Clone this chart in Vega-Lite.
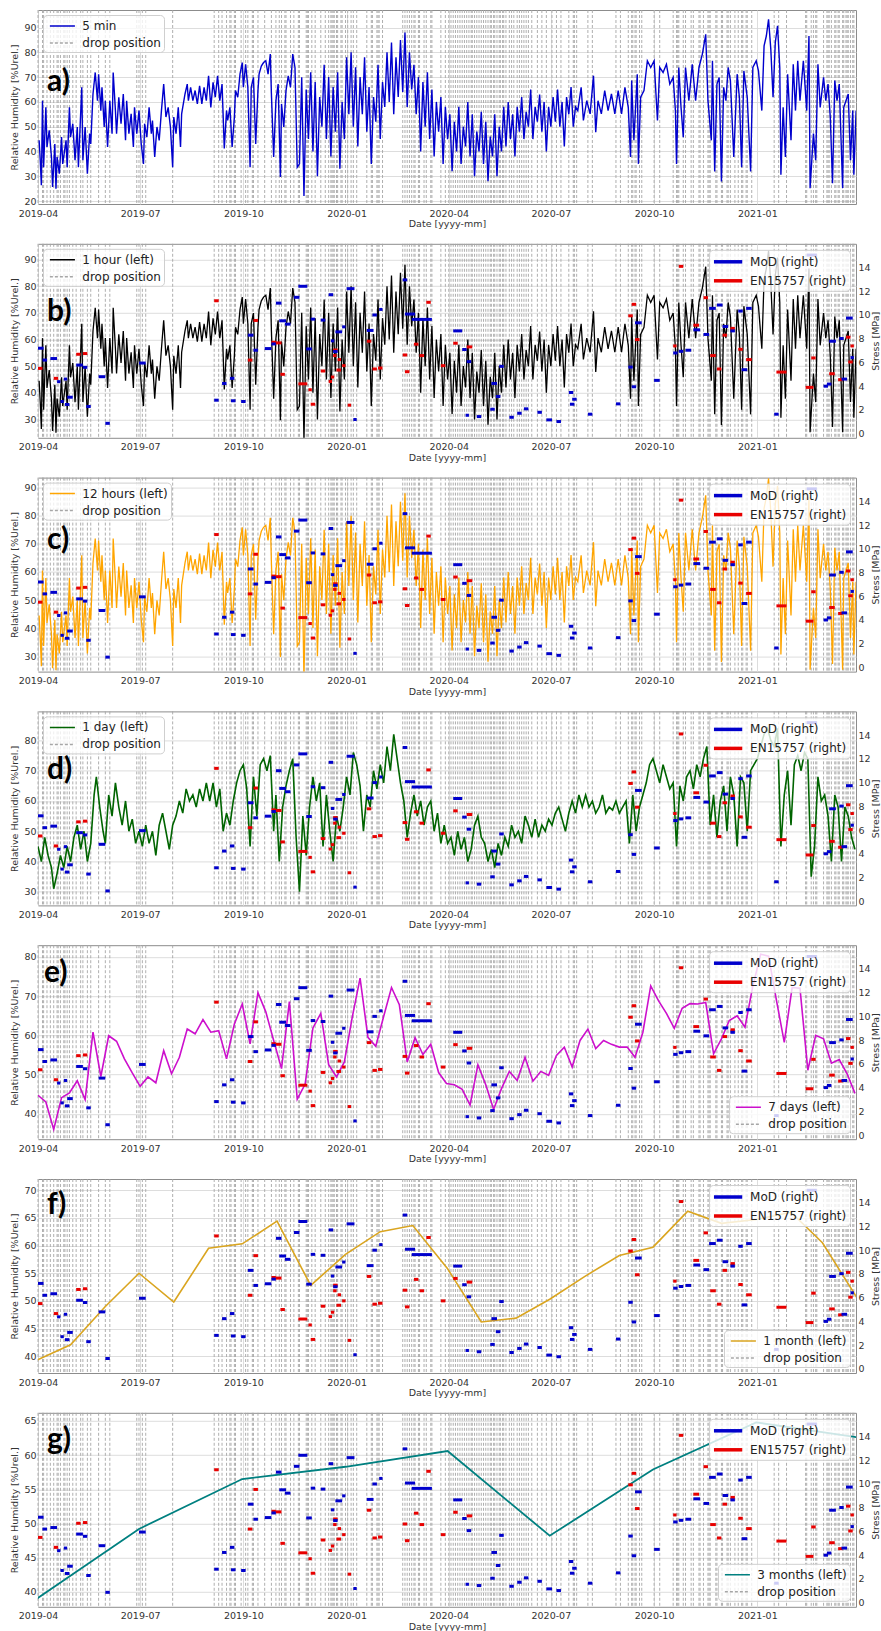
{
  "$schema": "https://vega.github.io/schema/vega-lite/v6.json",
  "padding": {"left": 9, "top": 9, "right": 0, "bottom": 2},
  "background": "white",
  "spacing": 39.8,
  "bounds": "flush",
  "resolve": {
    "scale": {"x": "independent", "y": "independent", "color": "independent", "stroke": "independent"},
    "legend": {"color": "independent", "stroke": "independent"}
  },
  "config": {
    "view": {"stroke": "#8c8c8c", "strokeWidth": 1},
    "font": "DejaVu Sans",
    "axis": {
      "labelFont": "DejaVu Sans", "labelFontSize": 9.5, "labelColor": "#333333",
      "titleFont": "DejaVu Sans", "titleFontSize": 9.5, "titleFontWeight": "normal", "titleColor": "#333333",
      "gridColor": "#d9d9d9", "gridWidth": 0.9, "domain": false, "ticks": false, "labelFlush": false, "labelOverlap": false
    },
    "axisX": {"labelPadding": 4, "titlePadding": 1},
    "axisY": {"labelPadding": 2, "titlePadding": 4},
    "legend": {
      "labelFont": "DejaVu Sans", "labelFontSize": 12, "labelColor": "#222222",
      "fillColor": "rgba(255,255,255,0.8)", "strokeColor": "#cfcfcf", "cornerRadius": 4,
      "padding": 3, "rowPadding": 3, "offset": 5
    }
  },
  "datasets": {
    "drops": [
      {"t":"2019-04-01"},{"t":"2019-04-05"},{"t":"2019-04-06"},{"t":"2019-04-09"},{"t":"2019-04-12"},{"t":"2019-04-15"},{"t":"2019-04-18"},{"t":"2019-04-19"},{"t":"2019-04-21"},{"t":"2019-04-24"},{"t":"2019-04-25"},{"t":"2019-04-27"},{"t":"2019-04-29"},{"t":"2019-05-02"},{"t":"2019-05-05"},{"t":"2019-05-09"},{"t":"2019-05-11"},{"t":"2019-05-15"},{"t":"2019-05-18"},{"t":"2019-05-25"},{"t":"2019-05-31"},{"t":"2019-06-04"},{"t":"2019-06-28"},{"t":"2019-06-30"},{"t":"2019-07-03"},{"t":"2019-07-06"},{"t":"2019-07-30"},{"t":"2019-09-05"},{"t":"2019-09-09"},{"t":"2019-09-12"},{"t":"2019-09-16"},{"t":"2019-09-19"},{"t":"2019-09-20"},{"t":"2019-09-23"},{"t":"2019-09-24"},{"t":"2019-09-29"},{"t":"2019-10-03"},{"t":"2019-10-05"},{"t":"2019-10-09"},{"t":"2019-10-10"},{"t":"2019-10-14"},{"t":"2019-10-20"},{"t":"2019-10-26"},{"t":"2019-10-30"},{"t":"2019-11-02"},{"t":"2019-11-04"},{"t":"2019-11-07"},{"t":"2019-11-08"},{"t":"2019-11-12"},{"t":"2019-11-15"},{"t":"2019-11-19"},{"t":"2019-11-20"},{"t":"2019-11-26"},{"t":"2019-11-27"},{"t":"2019-11-28"},{"t":"2019-12-01"},{"t":"2019-12-04"},{"t":"2019-12-09"},{"t":"2019-12-13"},{"t":"2019-12-16"},{"t":"2019-12-18"},{"t":"2019-12-19"},{"t":"2019-12-20"},{"t":"2019-12-21"},{"t":"2019-12-23"},{"t":"2019-12-24"},{"t":"2019-12-27"},{"t":"2019-12-28"},{"t":"2019-12-31"},
      {"t":"2020-01-02"},{"t":"2020-01-05"},{"t":"2020-01-07"},{"t":"2020-01-10"},{"t":"2020-01-19"},{"t":"2020-01-23"},{"t":"2020-01-24"},{"t":"2020-01-28"},{"t":"2020-01-29"},{"t":"2020-01-30"},{"t":"2020-02-02"},{"t":"2020-02-20"},{"t":"2020-02-22"},{"t":"2020-02-24"},{"t":"2020-02-26"},{"t":"2020-02-28"},{"t":"2020-03-01"},{"t":"2020-03-02"},{"t":"2020-03-05"},{"t":"2020-03-06"},{"t":"2020-03-10"},{"t":"2020-03-12"},{"t":"2020-03-16"},{"t":"2020-03-17"},{"t":"2020-03-25"},{"t":"2020-03-29"},{"t":"2020-04-01"},{"t":"2020-04-03"},{"t":"2020-04-05"},{"t":"2020-04-07"},{"t":"2020-04-09"},{"t":"2020-04-11"},{"t":"2020-04-13"},{"t":"2020-04-15"},{"t":"2020-04-17"},{"t":"2020-04-19"},{"t":"2020-04-21"},{"t":"2020-04-22"},{"t":"2020-04-24"},{"t":"2020-04-26"},{"t":"2020-04-28"},{"t":"2020-04-30"},{"t":"2020-05-02"},{"t":"2020-05-04"},{"t":"2020-05-06"},{"t":"2020-05-08"},{"t":"2020-05-09"},{"t":"2020-05-11"},{"t":"2020-05-12"},{"t":"2020-05-14"},{"t":"2020-05-16"},{"t":"2020-05-17"},{"t":"2020-05-19"},{"t":"2020-05-20"},{"t":"2020-05-22"},{"t":"2020-05-25"},{"t":"2020-05-27"},{"t":"2020-05-29"},{"t":"2020-06-01"},{"t":"2020-06-03"},{"t":"2020-06-05"},{"t":"2020-06-07"},{"t":"2020-06-09"},{"t":"2020-06-11"},{"t":"2020-06-14"},{"t":"2020-06-19"},{"t":"2020-06-23"},{"t":"2020-06-27"},{"t":"2020-07-02"},{"t":"2020-07-06"},{"t":"2020-07-10"},{"t":"2020-07-17"},{"t":"2020-07-21"},{"t":"2020-07-22"},{"t":"2020-07-24"},{"t":"2020-08-03"},{"t":"2020-08-07"},{"t":"2020-08-28"},{"t":"2020-09-01"},{"t":"2020-09-08"},{"t":"2020-09-11"},{"t":"2020-09-12"},{"t":"2020-09-14"},{"t":"2020-09-15"},{"t":"2020-09-18"},{"t":"2020-09-20"},{"t":"2020-10-01"},{"t":"2020-10-06"},{"t":"2020-10-18"},{"t":"2020-10-21"},{"t":"2020-10-22"},{"t":"2020-10-23"},{"t":"2020-10-27"},{"t":"2020-10-29"},{"t":"2020-11-03"},{"t":"2020-11-05"},{"t":"2020-11-10"},{"t":"2020-11-11"},{"t":"2020-11-14"},{"t":"2020-11-18"},{"t":"2020-11-19"},{"t":"2020-11-20"},{"t":"2020-11-25"},{"t":"2020-11-26"},{"t":"2020-11-30"},{"t":"2020-12-01"},{"t":"2020-12-05"},{"t":"2020-12-06"},{"t":"2020-12-08"},{"t":"2020-12-12"},{"t":"2020-12-15"},{"t":"2020-12-18"},{"t":"2020-12-19"},{"t":"2020-12-22"},{"t":"2020-12-23"},{"t":"2020-12-27"},
      {"t":"2021-01-16"},{"t":"2021-01-20"},{"t":"2021-01-27"},{"t":"2021-02-13"},{"t":"2021-02-14"},{"t":"2021-02-18"},{"t":"2021-02-20"},{"t":"2021-02-22"},{"t":"2021-02-23"},{"t":"2021-03-01"},{"t":"2021-03-04"},{"t":"2021-03-05"},{"t":"2021-03-06"},{"t":"2021-03-08"},{"t":"2021-03-11"},{"t":"2021-03-12"},{"t":"2021-03-14"},{"t":"2021-03-15"},{"t":"2021-03-18"},{"t":"2021-03-19"},{"t":"2021-03-21"},{"t":"2021-03-22"},{"t":"2021-03-23"},{"t":"2021-03-25"},{"t":"2021-03-27"},{"t":"2021-03-28"}
    ],
    "segs": [
      {"m":"MoD","t0":"2019-04-01","t1":"2019-04-06","s":7.2},{"m":"EN15757","t0":"2019-04-01","t1":"2019-04-05","s":5.5},{"m":"MoD","t0":"2019-04-05","t1":"2019-04-09","s":6.2},{"m":"MoD","t0":"2019-04-12","t1":"2019-04-18","s":6.33},{"m":"EN15757","t0":"2019-04-15","t1":"2019-04-19","s":4.66},{"m":"MoD","t0":"2019-04-18","t1":"2019-04-21","s":4.38},{"m":"MoD","t0":"2019-04-21","t1":"2019-04-24","s":2.71},{"m":"MoD","t0":"2019-04-24","t1":"2019-04-27","s":4.6},{"m":"MoD","t0":"2019-04-25","t1":"2019-04-29","s":2.46},{"m":"MoD","t0":"2019-04-27","t1":"2019-05-02","s":3.07},
      {"m":"MoD","t0":"2019-05-05","t1":"2019-05-11","s":5.78},{"m":"EN15757","t0":"2019-05-05","t1":"2019-05-09","s":6.69},{"m":"EN15757","t0":"2019-05-11","t1":"2019-05-15","s":6.75},{"m":"MoD","t0":"2019-05-11","t1":"2019-05-15","s":5.59},{"m":"MoD","t0":"2019-05-14","t1":"2019-05-18","s":2.29},{"m":"MoD","t0":"2019-05-25","t1":"2019-05-31","s":4.8},{"m":"MoD","t0":"2019-05-31","t1":"2019-06-04","s":0.87},{"m":"MoD","t0":"2019-06-30","t1":"2019-07-06","s":5.95},
      {"m":"EN15757","t0":"2019-09-05","t1":"2019-09-09","s":11.2},{"m":"MoD","t0":"2019-09-05","t1":"2019-09-09","s":2.82},{"m":"MoD","t0":"2019-09-12","t1":"2019-09-16","s":4.23},{"m":"MoD","t0":"2019-09-19","t1":"2019-09-23","s":4.66},{"m":"MoD","t0":"2019-09-20","t1":"2019-09-24","s":2.77},{"m":"MoD","t0":"2019-09-29","t1":"2019-10-03","s":2.71},{"m":"EN15757","t0":"2019-10-05","t1":"2019-10-09","s":6.2},{"m":"MoD","t0":"2019-10-05","t1":"2019-10-10","s":8.3},{"m":"EN15757","t0":"2019-10-10","t1":"2019-10-14","s":9.54},{"m":"MoD","t0":"2019-10-10","t1":"2019-10-14","s":7.03},
      {"m":"MoD","t0":"2019-10-20","t1":"2019-10-26","s":7.17},{"m":"EN15757","t0":"2019-10-26","t1":"2019-10-30","s":7.7},{"m":"MoD","t0":"2019-10-26","t1":"2019-10-30","s":7.56},{"m":"EN15757","t0":"2019-10-30","t1":"2019-11-04","s":7.65},{"m":"MoD","t0":"2019-10-30","t1":"2019-11-04","s":11.0},{"m":"MoD","t0":"2019-11-02","t1":"2019-11-08","s":9.51},{"m":"EN15757","t0":"2019-11-03","t1":"2019-11-07","s":5.0},{"m":"MoD","t0":"2019-11-07","t1":"2019-11-12","s":9.23},{"m":"MoD","t0":"2019-11-15","t1":"2019-11-20","s":11.49},{"m":"MoD","t0":"2019-11-19","t1":"2019-11-27","s":12.42},
      {"m":"EN15757","t0":"2019-11-19","t1":"2019-11-27","s":4.2},{"m":"MoD","t0":"2019-11-26","t1":"2019-12-01","s":7.14},{"m":"EN15757","t0":"2019-11-28","t1":"2019-12-01","s":3.7},{"m":"EN15757","t0":"2019-11-30","t1":"2019-12-04","s":2.48},{"m":"MoD","t0":"2019-11-30","t1":"2019-12-04","s":9.65},{"m":"EN15757","t0":"2019-12-09","t1":"2019-12-13","s":5.28},{"m":"MoD","t0":"2019-12-09","t1":"2019-12-13","s":9.57},{"m":"MoD","t0":"2019-12-16","t1":"2019-12-20","s":11.71},{"m":"EN15757","t0":"2019-12-16","t1":"2019-12-19","s":4.4},{"m":"EN15757","t0":"2019-12-18","t1":"2019-12-21","s":4.77},
      {"m":"MoD","t0":"2019-12-18","t1":"2019-12-21","s":7.82},{"m":"EN15757","t0":"2019-12-20","t1":"2019-12-24","s":7.05},{"m":"MoD","t0":"2019-12-20","t1":"2019-12-24","s":6.92},{"m":"EN15757","t0":"2019-12-20","t1":"2019-12-23","s":6.58},{"m":"EN15757","t0":"2019-12-23","t1":"2019-12-27","s":5.36},{"m":"MoD","t0":"2019-12-22","t1":"2019-12-28","s":8.58},{"m":"EN15757","t0":"2019-12-24","t1":"2019-12-27","s":6.24},{"m":"MoD","t0":"2019-12-28","t1":"2019-12-31","s":9.0},{"m":"EN15757","t0":"2019-12-28","t1":"2019-12-31","s":5.73},
      {"m":"MoD","t0":"2020-01-01","t1":"2020-01-08","s":12.22},{"m":"EN15757","t0":"2020-01-02","t1":"2020-01-05","s":2.4},{"m":"MoD","t0":"2020-01-07","t1":"2020-01-10","s":1.19},{"m":"MoD","t0":"2020-01-19","t1":"2020-01-25","s":8.7},{"m":"EN15757","t0":"2020-01-19","t1":"2020-01-23","s":7.79},{"m":"MoD","t0":"2020-01-24","t1":"2020-01-28","s":10.0},{"m":"MoD","t0":"2020-01-30","t1":"2020-02-02","s":10.47},{"m":"EN15757","t0":"2020-01-24","t1":"2020-01-28","s":5.45},{"m":"EN15757","t0":"2020-01-29","t1":"2020-02-02","s":5.53},
      {"m":"MoD","t0":"2020-02-20","t1":"2020-02-24","s":12.96},{"m":"MoD","t0":"2020-02-22","t1":"2020-03-02","s":10.08},{"m":"MoD","t0":"2020-02-28","t1":"2020-03-17","s":9.63},{"m":"EN15757","t0":"2020-02-20","t1":"2020-02-24","s":6.63},{"m":"EN15757","t0":"2020-02-22","t1":"2020-02-26","s":5.22},{"m":"EN15757","t0":"2020-03-01","t1":"2020-03-05","s":7.54},{"m":"EN15757","t0":"2020-03-06","t1":"2020-03-10","s":6.58},{"m":"EN15757","t0":"2020-03-12","t1":"2020-03-16","s":11.07},{"m":"EN15757","t0":"2020-03-25","t1":"2020-03-29","s":5.73},
      {"m":"MoD","t0":"2020-04-05","t1":"2020-04-13","s":8.66},{"m":"EN15757","t0":"2020-04-05","t1":"2020-04-09","s":7.62},{"m":"MoD","t0":"2020-04-13","t1":"2020-04-17","s":7.09},{"m":"EN15757","t0":"2020-04-17","t1":"2020-04-22","s":7.31},{"m":"MoD","t0":"2020-04-17","t1":"2020-04-21","s":6.07},{"m":"MoD","t0":"2020-04-16","t1":"2020-04-19","s":1.55},{"m":"MoD","t0":"2020-04-26","t1":"2020-04-30","s":1.44},{"m":"MoD","t0":"2020-05-09","t1":"2020-05-14","s":4.23},{"m":"MoD","t0":"2020-05-13","t1":"2020-05-17","s":3.13},{"m":"MoD","t0":"2020-05-08","t1":"2020-05-12","s":2.06},
      {"m":"MoD","t0":"2020-05-16","t1":"2020-05-20","s":5.67},{"m":"MoD","t0":"2020-05-25","t1":"2020-05-29","s":1.38},{"m":"MoD","t0":"2020-06-01","t1":"2020-06-05","s":1.72},{"m":"MoD","t0":"2020-06-07","t1":"2020-06-11","s":2.09},{"m":"MoD","t0":"2020-06-19","t1":"2020-06-23","s":1.8},{"m":"MoD","t0":"2020-06-27","t1":"2020-07-02","s":1.16},{"m":"MoD","t0":"2020-07-06","t1":"2020-07-10","s":1.02},{"m":"MoD","t0":"2020-07-17","t1":"2020-07-21","s":3.47},{"m":"MoD","t0":"2020-07-18","t1":"2020-07-22","s":2.48},{"m":"MoD","t0":"2020-07-20","t1":"2020-07-24","s":2.9},
      {"m":"MoD","t0":"2020-08-03","t1":"2020-08-07","s":1.64},{"m":"MoD","t0":"2020-08-28","t1":"2020-09-01","s":2.51},{"m":"EN15757","t0":"2020-09-08","t1":"2020-09-12","s":9.93},{"m":"EN15757","t0":"2020-09-11","t1":"2020-09-15","s":10.9},{"m":"MoD","t0":"2020-09-08","t1":"2020-09-12","s":5.61},{"m":"MoD","t0":"2020-09-11","t1":"2020-09-15","s":3.95},{"m":"MoD","t0":"2020-09-14","t1":"2020-09-20","s":9.34},{"m":"EN15757","t0":"2020-09-14","t1":"2020-09-18","s":7.93},{"m":"MoD","t0":"2020-10-01","t1":"2020-10-06","s":4.49},
      {"m":"EN15757","t0":"2020-10-18","t1":"2020-10-21","s":7.39},{"m":"MoD","t0":"2020-10-18","t1":"2020-10-22","s":6.8},{"m":"MoD","t0":"2020-10-23","t1":"2020-10-27","s":6.94},{"m":"EN15757","t0":"2020-10-23","t1":"2020-10-27","s":14.1},{"m":"MoD","t0":"2020-10-29","t1":"2020-11-03","s":7.03},{"m":"EN15757","t0":"2020-11-05","t1":"2020-11-10","s":9.14},{"m":"MoD","t0":"2020-11-05","t1":"2020-11-11","s":8.75},{"m":"EN15757","t0":"2020-11-14","t1":"2020-11-18","s":11.46},{"m":"MoD","t0":"2020-11-14","t1":"2020-11-19","s":8.36},{"m":"MoD","t0":"2020-11-19","t1":"2020-11-25","s":10.56},
      {"m":"EN15757","t0":"2020-11-20","t1":"2020-11-25","s":6.58},{"m":"MoD","t0":"2020-11-26","t1":"2020-12-01","s":10.84},{"m":"EN15757","t0":"2020-11-26","t1":"2020-11-30","s":5.45},{"m":"MoD","t0":"2020-12-01","t1":"2020-12-06","s":9.03},{"m":"EN15757","t0":"2020-12-01","t1":"2020-12-05","s":8.3},{"m":"EN15757","t0":"2020-12-08","t1":"2020-12-12","s":8.87},{"m":"MoD","t0":"2020-12-08","t1":"2020-12-12","s":8.66},{"m":"EN15757","t0":"2020-12-15","t1":"2020-12-19","s":7.11},{"m":"MoD","t0":"2020-12-15","t1":"2020-12-19","s":10.33},{"m":"MoD","t0":"2020-12-18","t1":"2020-12-23","s":5.39},
      {"m":"EN15757","t0":"2020-12-22","t1":"2020-12-27","s":6.24},{"m":"MoD","t0":"2020-12-22","t1":"2020-12-27","s":10.56},{"m":"MoD","t0":"2021-01-16","t1":"2021-01-20","s":1.64},{"m":"EN15757","t0":"2021-01-18","t1":"2021-01-27","s":5.19},{"m":"MoD","t0":"2021-02-14","t1":"2021-02-23","s":15.05},{"m":"EN15757","t0":"2021-02-13","t1":"2021-02-20","s":3.9},{"m":"EN15757","t0":"2021-02-18","t1":"2021-02-22","s":6.38},{"m":"MoD","t0":"2021-03-01","t1":"2021-03-05","s":4.0},{"m":"MoD","t0":"2021-03-04","t1":"2021-03-08","s":4.18},{"m":"MoD","t0":"2021-03-06","t1":"2021-03-12","s":7.79},
      {"m":"EN15757","t0":"2021-03-06","t1":"2021-03-11","s":5.05},{"m":"MoD","t0":"2021-03-15","t1":"2021-03-19","s":8.02},{"m":"EN15757","t0":"2021-03-14","t1":"2021-03-18","s":4.55},{"m":"MoD","t0":"2021-03-17","t1":"2021-03-22","s":4.6},{"m":"EN15757","t0":"2021-03-21","t1":"2021-03-25","s":8.13},{"m":"EN15757","t0":"2021-03-23","t1":"2021-03-27","s":6.04},{"m":"MoD","t0":"2021-03-21","t1":"2021-03-27","s":9.74},{"m":"EN15757","t0":"2021-03-25","t1":"2021-03-28","s":7.39},{"m":"MoD","t0":"2021-03-25","t1":"2021-03-28","s":6.41}
    ],
    "hf": [
      {"t":"2019-04-02","v":44.5},{"t":"2019-04-03","v":36.5},{"t":"2019-04-04","v":26.4},{"t":"2019-04-05","v":60.5},{"t":"2019-04-06","v":33.6},{"t":"2019-04-08","v":57.8},{"t":"2019-04-09","v":41.8},{"t":"2019-04-11","v":48.5},{"t":"2019-04-13","v":37.8},{"t":"2019-04-14","v":25.7},{"t":"2019-04-16","v":43},{"t":"2019-04-17","v":25},{"t":"2019-04-18","v":37.8},{"t":"2019-04-20","v":31},{"t":"2019-04-22","v":45.8},{"t":"2019-04-23","v":35},{"t":"2019-04-26","v":44.5},{"t":"2019-04-27","v":33.6},{"t":"2019-04-29","v":57.8},{"t":"2019-04-30","v":45.8},
      {"t":"2019-05-02","v":51.2},{"t":"2019-05-04","v":36.5},{"t":"2019-05-06","v":49.9},{"t":"2019-05-07","v":33.6},{"t":"2019-05-10","v":65.9},{"t":"2019-05-11","v":36.5},{"t":"2019-05-13","v":49.9},{"t":"2019-05-15","v":31},{"t":"2019-05-17","v":47.2},{"t":"2019-05-18","v":43},{"t":"2019-05-20","v":63.2},{"t":"2019-05-22","v":71.9},{"t":"2019-05-24","v":60.5},{"t":"2019-05-25","v":71.2},{"t":"2019-05-27","v":56.5},{"t":"2019-05-28","v":65.9},{"t":"2019-05-30","v":49.9},{"t":"2019-05-31","v":60.5},
      {"t":"2019-06-02","v":41.8},{"t":"2019-06-04","v":60.5},{"t":"2019-06-06","v":47.2},{"t":"2019-06-07","v":71.9},{"t":"2019-06-09","v":56.5},{"t":"2019-06-10","v":47.2},{"t":"2019-06-12","v":61.9},{"t":"2019-06-14","v":51.2},{"t":"2019-06-16","v":63.2},{"t":"2019-06-18","v":44.5},{"t":"2019-06-19","v":60.5},{"t":"2019-06-21","v":47.2},{"t":"2019-06-23","v":55.2},{"t":"2019-06-25","v":41.8},{"t":"2019-06-26","v":57.8},{"t":"2019-06-28","v":47.2},{"t":"2019-06-30","v":56.5},
      {"t":"2019-07-02","v":43},{"t":"2019-07-04","v":35},{"t":"2019-07-05","v":51.2},{"t":"2019-07-07","v":45.8},{"t":"2019-07-09","v":57.8},{"t":"2019-07-11","v":47.2},{"t":"2019-07-12","v":52.5},{"t":"2019-07-14","v":37.8},{"t":"2019-07-16","v":49.9},{"t":"2019-07-18","v":44.5},{"t":"2019-07-20","v":56.5},{"t":"2019-07-22","v":67.2},{"t":"2019-07-24","v":53.9},{"t":"2019-07-26","v":57.8},{"t":"2019-07-28","v":49.9},{"t":"2019-07-30","v":33.6},{"t":"2019-07-31","v":53.9},
      {"t":"2019-08-02","v":47.2},{"t":"2019-08-04","v":57.8},{"t":"2019-08-06","v":41.8},{"t":"2019-08-07","v":55.2},{"t":"2019-08-10","v":63.2},{"t":"2019-08-12","v":67.2},{"t":"2019-08-13","v":60.5},{"t":"2019-08-15","v":65.9},{"t":"2019-08-17","v":60.5},{"t":"2019-08-19","v":64.6},{"t":"2019-08-21","v":59.2},{"t":"2019-08-23","v":66.5},{"t":"2019-08-25","v":59.2},{"t":"2019-08-27","v":65.9},{"t":"2019-08-29","v":60.5},{"t":"2019-08-31","v":70.5},
      {"t":"2019-09-02","v":57.8},{"t":"2019-09-04","v":67.9},{"t":"2019-09-06","v":61.9},{"t":"2019-09-08","v":70.5},{"t":"2019-09-10","v":60.5},{"t":"2019-09-12","v":67.2},{"t":"2019-09-14","v":41.2},{"t":"2019-09-16","v":56.5},{"t":"2019-09-17","v":52.5},{"t":"2019-09-19","v":57.8},{"t":"2019-09-21","v":41.8},{"t":"2019-09-23","v":53.9},{"t":"2019-09-24","v":64.6},{"t":"2019-09-26","v":61.9},{"t":"2019-09-28","v":71.2},{"t":"2019-09-30","v":75.9},
      {"t":"2019-10-01","v":65.9},{"t":"2019-10-03","v":75.2},{"t":"2019-10-05","v":65.9},{"t":"2019-10-07","v":33.6},{"t":"2019-10-08","v":65.9},{"t":"2019-10-10","v":69.9},{"t":"2019-10-12","v":43},{"t":"2019-10-14","v":64.6},{"t":"2019-10-15","v":71.2},{"t":"2019-10-17","v":74.5},{"t":"2019-10-19","v":75.9},{"t":"2019-10-21","v":76.6},{"t":"2019-10-23","v":71.2},{"t":"2019-10-25","v":79.3},{"t":"2019-10-26","v":63.2},{"t":"2019-10-28","v":37.8},{"t":"2019-10-30","v":60.5},
      {"t":"2019-11-01","v":67.2},{"t":"2019-11-03","v":29.7},{"t":"2019-11-04","v":59.2},{"t":"2019-11-06","v":49.9},{"t":"2019-11-08","v":64.6},{"t":"2019-11-10","v":70.5},{"t":"2019-11-12","v":65.9},{"t":"2019-11-14","v":79.3},{"t":"2019-11-16","v":73.9},{"t":"2019-11-18","v":33.6},{"t":"2019-11-20","v":35},{"t":"2019-11-22","v":70},{"t":"2019-11-24","v":22},{"t":"2019-11-26","v":65},{"t":"2019-11-28","v":45},{"t":"2019-11-30","v":72},
      {"t":"2019-12-02","v":40},{"t":"2019-12-04","v":68},{"t":"2019-12-06","v":30},{"t":"2019-12-08","v":62},{"t":"2019-12-10","v":50},{"t":"2019-12-12","v":75},{"t":"2019-12-14","v":45},{"t":"2019-12-16","v":70},{"t":"2019-12-18","v":38},{"t":"2019-12-20","v":66},{"t":"2019-12-22","v":48},{"t":"2019-12-24","v":72},{"t":"2019-12-26","v":33},{"t":"2019-12-28","v":60},{"t":"2019-12-30","v":45},
      {"t":"2020-01-01","v":78},{"t":"2020-01-03","v":55},{"t":"2020-01-05","v":80},{"t":"2020-01-07","v":50},{"t":"2020-01-09","v":74},{"t":"2020-01-11","v":42},{"t":"2020-01-13","v":70},{"t":"2020-01-15","v":55},{"t":"2020-01-17","v":78},{"t":"2020-01-19","v":48},{"t":"2020-01-21","v":66},{"t":"2020-01-23","v":35},{"t":"2020-01-25","v":62},{"t":"2020-01-27","v":52},{"t":"2020-01-29","v":75},{"t":"2020-01-31","v":45},
      {"t":"2020-02-02","v":68},{"t":"2020-02-04","v":58},{"t":"2020-02-06","v":80},{"t":"2020-02-08","v":60},{"t":"2020-02-10","v":84},{"t":"2020-02-12","v":55},{"t":"2020-02-14","v":78},{"t":"2020-02-16","v":62},{"t":"2020-02-18","v":85},{"t":"2020-02-20","v":64},{"t":"2020-02-22","v":88},{"t":"2020-02-24","v":58},{"t":"2020-02-26","v":80},{"t":"2020-02-28","v":65},
      {"t":"2020-03-01","v":75},{"t":"2020-03-03","v":55},{"t":"2020-03-05","v":70},{"t":"2020-03-07","v":40},{"t":"2020-03-09","v":68},{"t":"2020-03-11","v":50},{"t":"2020-03-13","v":72},{"t":"2020-03-15","v":45},{"t":"2020-03-17","v":65},{"t":"2020-03-19","v":38},{"t":"2020-03-21","v":60},{"t":"2020-03-23","v":48},{"t":"2020-03-25","v":62},{"t":"2020-03-27","v":35},{"t":"2020-03-29","v":58},{"t":"2020-03-31","v":45},
      {"t":"2020-04-02","v":55},{"t":"2020-04-04","v":32},{"t":"2020-04-06","v":52},{"t":"2020-04-08","v":40},{"t":"2020-04-10","v":58},{"t":"2020-04-12","v":35},{"t":"2020-04-14","v":50},{"t":"2020-04-16","v":42},{"t":"2020-04-18","v":60},{"t":"2020-04-20","v":38},{"t":"2020-04-22","v":55},{"t":"2020-04-24","v":30},{"t":"2020-04-26","v":48},{"t":"2020-04-28","v":40},{"t":"2020-04-30","v":56},
      {"t":"2020-05-02","v":35},{"t":"2020-05-04","v":52},{"t":"2020-05-06","v":28},{"t":"2020-05-08","v":46},{"t":"2020-05-10","v":38},{"t":"2020-05-12","v":55},{"t":"2020-05-14","v":30},{"t":"2020-05-16","v":50},{"t":"2020-05-18","v":40},{"t":"2020-05-20","v":58},{"t":"2020-05-22","v":42},{"t":"2020-05-24","v":60},{"t":"2020-05-26","v":45},{"t":"2020-05-28","v":55},{"t":"2020-05-30","v":38},
      {"t":"2020-06-01","v":58},{"t":"2020-06-03","v":48},{"t":"2020-06-05","v":62},{"t":"2020-06-07","v":45},{"t":"2020-06-09","v":56},{"t":"2020-06-11","v":50},{"t":"2020-06-13","v":65},{"t":"2020-06-15","v":45},{"t":"2020-06-17","v":58},{"t":"2020-06-19","v":52},{"t":"2020-06-21","v":63},{"t":"2020-06-23","v":48},{"t":"2020-06-25","v":60},{"t":"2020-06-27","v":40},{"t":"2020-06-29","v":58},
      {"t":"2020-07-01","v":50},{"t":"2020-07-03","v":62},{"t":"2020-07-05","v":52},{"t":"2020-07-07","v":65},{"t":"2020-07-09","v":50},{"t":"2020-07-11","v":60},{"t":"2020-07-13","v":42},{"t":"2020-07-15","v":62},{"t":"2020-07-17","v":55},{"t":"2020-07-19","v":66},{"t":"2020-07-21","v":50},{"t":"2020-07-23","v":58},{"t":"2020-07-25","v":56.5},{"t":"2020-07-28","v":65.9},{"t":"2020-07-30","v":52.5},
      {"t":"2020-08-02","v":60.5},{"t":"2020-08-05","v":55.2},{"t":"2020-08-08","v":70.6},{"t":"2020-08-10","v":47.8},{"t":"2020-08-12","v":60.5},{"t":"2020-08-15","v":55.2},{"t":"2020-08-18","v":64.6},{"t":"2020-08-21","v":56.5},{"t":"2020-08-24","v":63.2},{"t":"2020-08-27","v":55.2},{"t":"2020-08-30","v":64.6},
      {"t":"2020-09-02","v":55.2},{"t":"2020-09-05","v":65.9},{"t":"2020-09-08","v":57.8},{"t":"2020-09-10","v":37.8},{"t":"2020-09-11","v":68.6},{"t":"2020-09-13","v":44.5},{"t":"2020-09-16","v":71.2},{"t":"2020-09-17","v":35},{"t":"2020-09-19","v":61.9},{"t":"2020-09-22","v":64.6},{"t":"2020-09-25","v":76.6},{"t":"2020-09-28","v":73.9},
      {"t":"2020-10-01","v":76.6},{"t":"2020-10-04","v":52.5},{"t":"2020-10-06","v":73.9},{"t":"2020-10-09","v":71.9},{"t":"2020-10-12","v":75.2},{"t":"2020-10-15","v":67.2},{"t":"2020-10-18","v":69.9},{"t":"2020-10-20","v":56.5},{"t":"2020-10-21","v":35},{"t":"2020-10-23","v":73.9},{"t":"2020-10-25","v":57.8},{"t":"2020-10-27","v":45.8},{"t":"2020-10-29","v":73.9},
      {"t":"2020-11-01","v":60.5},{"t":"2020-11-04","v":75.2},{"t":"2020-11-07","v":60.5},{"t":"2020-11-10","v":73.9},{"t":"2020-11-13","v":79.3},{"t":"2020-11-16","v":87.3},{"t":"2020-11-18","v":60.5},{"t":"2020-11-21","v":44.5},{"t":"2020-11-22","v":76.6},{"t":"2020-11-24","v":31.9},{"t":"2020-11-26","v":67.2},{"t":"2020-11-28","v":69.9},{"t":"2020-11-30","v":27.9},
      {"t":"2020-12-02","v":65.9},{"t":"2020-12-04","v":60.5},{"t":"2020-12-06","v":73.9},{"t":"2020-12-08","v":68.6},{"t":"2020-12-11","v":37.8},{"t":"2020-12-14","v":71.2},{"t":"2020-12-16","v":61.9},{"t":"2020-12-18","v":33.6},{"t":"2020-12-20","v":72.5},{"t":"2020-12-23","v":61.9},{"t":"2020-12-26","v":31.9},{"t":"2020-12-28","v":73.9},{"t":"2020-12-31","v":76.6},
      {"t":"2021-01-02","v":72.5},{"t":"2021-01-05","v":56.5},{"t":"2021-01-07","v":82.6},{"t":"2021-01-09","v":86.6},{"t":"2021-01-11","v":93.3},{"t":"2021-01-13","v":81.3},{"t":"2021-01-15","v":61.9},{"t":"2021-01-17","v":84},{"t":"2021-01-19","v":90.7},{"t":"2021-01-21","v":73.9},{"t":"2021-01-22","v":30.6},{"t":"2021-01-24","v":57.8},{"t":"2021-01-26","v":37.8},{"t":"2021-01-28","v":71.2},{"t":"2021-01-31","v":44.5},
      {"t":"2021-02-02","v":75.2},{"t":"2021-02-04","v":56.5},{"t":"2021-02-06","v":76.6},{"t":"2021-02-08","v":60.5},{"t":"2021-02-11","v":76.6},{"t":"2021-02-14","v":56.5},{"t":"2021-02-16","v":86.6},{"t":"2021-02-17","v":25.2},{"t":"2021-02-20","v":47.2},{"t":"2021-02-22","v":36.5},{"t":"2021-02-24","v":75.2},{"t":"2021-02-26","v":57.8},
      {"t":"2021-03-01","v":69.9},{"t":"2021-03-03","v":60.5},{"t":"2021-03-05","v":67.2},{"t":"2021-03-07","v":53.9},{"t":"2021-03-09","v":27.2},{"t":"2021-03-11","v":68.6},{"t":"2021-03-13","v":60.5},{"t":"2021-03-15","v":67.2},{"t":"2021-03-18","v":25.2},{"t":"2021-03-19","v":57.8},{"t":"2021-03-21","v":60.5},{"t":"2021-03-23","v":63.2},{"t":"2021-03-25","v":36.5},{"t":"2021-03-27","v":56.5},{"t":"2021-03-28","v":30.6},{"t":"2021-03-30","v":56.5}
    ],
    "day": [
      {"t":"2019-04-01","v":45},{"t":"2019-04-04","v":40},{"t":"2019-04-07","v":48},{"t":"2019-04-10","v":42},{"t":"2019-04-13","v":38},{"t":"2019-04-15","v":31},{"t":"2019-04-18","v":36},{"t":"2019-04-21","v":42},{"t":"2019-04-24","v":38},{"t":"2019-04-27","v":45},{"t":"2019-04-30","v":40},
      {"t":"2019-05-03","v":48},{"t":"2019-05-06","v":52},{"t":"2019-05-09","v":44},{"t":"2019-05-12","v":50},{"t":"2019-05-15","v":40},{"t":"2019-05-18","v":46},{"t":"2019-05-21","v":62},{"t":"2019-05-23","v":68},{"t":"2019-05-26","v":58},{"t":"2019-05-29","v":50},{"t":"2019-05-31","v":46},
      {"t":"2019-06-03","v":62},{"t":"2019-06-06","v":55},{"t":"2019-06-09","v":66},{"t":"2019-06-12","v":58},{"t":"2019-06-15","v":52},{"t":"2019-06-18","v":60},{"t":"2019-06-21","v":50},{"t":"2019-06-24","v":54},{"t":"2019-06-27","v":46},{"t":"2019-06-30","v":50},
      {"t":"2019-07-03","v":45},{"t":"2019-07-06","v":52},{"t":"2019-07-09","v":46},{"t":"2019-07-12","v":50},{"t":"2019-07-15","v":42},{"t":"2019-07-18","v":52},{"t":"2019-07-21","v":56},{"t":"2019-07-24","v":50},{"t":"2019-07-27","v":44},{"t":"2019-07-30","v":52},
      {"t":"2019-08-02","v":55},{"t":"2019-08-05","v":60},{"t":"2019-08-08","v":56},{"t":"2019-08-11","v":64},{"t":"2019-08-14","v":60},{"t":"2019-08-17","v":62},{"t":"2019-08-20","v":58},{"t":"2019-08-23","v":64},{"t":"2019-08-26","v":60},{"t":"2019-08-29","v":66},
      {"t":"2019-09-01","v":60},{"t":"2019-09-04","v":66},{"t":"2019-09-07","v":58},{"t":"2019-09-10","v":64},{"t":"2019-09-13","v":50},{"t":"2019-09-16","v":56},{"t":"2019-09-19","v":52},{"t":"2019-09-22","v":60},{"t":"2019-09-25","v":66},{"t":"2019-09-28","v":70},
      {"t":"2019-10-01","v":72},{"t":"2019-10-04","v":64},{"t":"2019-10-07","v":45},{"t":"2019-10-10","v":68},{"t":"2019-10-13","v":55},{"t":"2019-10-16","v":72},{"t":"2019-10-19","v":74},{"t":"2019-10-22","v":70},{"t":"2019-10-25","v":75},{"t":"2019-10-28","v":50},{"t":"2019-10-30","v":62},
      {"t":"2019-11-02","v":40},{"t":"2019-11-05","v":58},{"t":"2019-11-08","v":65},{"t":"2019-11-11","v":70},{"t":"2019-11-14","v":74},{"t":"2019-11-17","v":48},{"t":"2019-11-20","v":30},{"t":"2019-11-23","v":55},{"t":"2019-11-26","v":42},{"t":"2019-11-29","v":58},
      {"t":"2019-12-02","v":68},{"t":"2019-12-05","v":60},{"t":"2019-12-08","v":66},{"t":"2019-12-11","v":45},{"t":"2019-12-14","v":62},{"t":"2019-12-17","v":50},{"t":"2019-12-20","v":40},{"t":"2019-12-23","v":55},{"t":"2019-12-26","v":50},{"t":"2019-12-29","v":58},
      {"t":"2020-01-01","v":68},{"t":"2020-01-04","v":62},{"t":"2020-01-07","v":76},{"t":"2020-01-10","v":72},{"t":"2020-01-13","v":65},{"t":"2020-01-16","v":50},{"t":"2020-01-19","v":62},{"t":"2020-01-22","v":58},{"t":"2020-01-25","v":70},{"t":"2020-01-28","v":64},{"t":"2020-01-31","v":72},
      {"t":"2020-02-03","v":66},{"t":"2020-02-06","v":78},{"t":"2020-02-09","v":70},{"t":"2020-02-12","v":82},{"t":"2020-02-15","v":74},{"t":"2020-02-18","v":66},{"t":"2020-02-21","v":60},{"t":"2020-02-24","v":48},{"t":"2020-02-27","v":56},
      {"t":"2020-03-01","v":62},{"t":"2020-03-04","v":55},{"t":"2020-03-07","v":60},{"t":"2020-03-10","v":52},{"t":"2020-03-13","v":58},{"t":"2020-03-16","v":60},{"t":"2020-03-19","v":50},{"t":"2020-03-22","v":56},{"t":"2020-03-25","v":46},{"t":"2020-03-28","v":52},{"t":"2020-03-31","v":46},
      {"t":"2020-04-03","v":48},{"t":"2020-04-06","v":42},{"t":"2020-04-09","v":50},{"t":"2020-04-12","v":44},{"t":"2020-04-15","v":48},{"t":"2020-04-18","v":40},{"t":"2020-04-21","v":44},{"t":"2020-04-24","v":52},{"t":"2020-04-27","v":55},{"t":"2020-04-30","v":48},
      {"t":"2020-05-03","v":46},{"t":"2020-05-06","v":40},{"t":"2020-05-09","v":44},{"t":"2020-05-12","v":38},{"t":"2020-05-15","v":46},{"t":"2020-05-18","v":42},{"t":"2020-05-21","v":48},{"t":"2020-05-24","v":45},{"t":"2020-05-27","v":52},{"t":"2020-05-30","v":48},
      {"t":"2020-06-02","v":50},{"t":"2020-06-05","v":46},{"t":"2020-06-08","v":55},{"t":"2020-06-11","v":52},{"t":"2020-06-14","v":48},{"t":"2020-06-17","v":54},{"t":"2020-06-20","v":48},{"t":"2020-06-23","v":52},{"t":"2020-06-26","v":50},{"t":"2020-06-29","v":54},
      {"t":"2020-07-02","v":52},{"t":"2020-07-05","v":56},{"t":"2020-07-08","v":58},{"t":"2020-07-11","v":54},{"t":"2020-07-14","v":50},{"t":"2020-07-17","v":56},{"t":"2020-07-20","v":60},{"t":"2020-07-23","v":56},{"t":"2020-07-26","v":62},{"t":"2020-07-29","v":58},
      {"t":"2020-08-01","v":62},{"t":"2020-08-04","v":58},{"t":"2020-08-07","v":60},{"t":"2020-08-10","v":56},{"t":"2020-08-13","v":58},{"t":"2020-08-16","v":62},{"t":"2020-08-19","v":56},{"t":"2020-08-22","v":58},{"t":"2020-08-25","v":57},{"t":"2020-08-28","v":60},{"t":"2020-08-31","v":56},
      {"t":"2020-09-03","v":58},{"t":"2020-09-06","v":60},{"t":"2020-09-09","v":46},{"t":"2020-09-12","v":62},{"t":"2020-09-15","v":50},{"t":"2020-09-18","v":58},{"t":"2020-09-21","v":62},{"t":"2020-09-24","v":66},{"t":"2020-09-27","v":72},{"t":"2020-09-30","v":74},
      {"t":"2020-10-03","v":70},{"t":"2020-10-06","v":66},{"t":"2020-10-09","v":72},{"t":"2020-10-12","v":68},{"t":"2020-10-15","v":64},{"t":"2020-10-18","v":66},{"t":"2020-10-21","v":45},{"t":"2020-10-24","v":65},{"t":"2020-10-27","v":60},{"t":"2020-10-30","v":68},
      {"t":"2020-11-02","v":70},{"t":"2020-11-05","v":64},{"t":"2020-11-08","v":72},{"t":"2020-11-11","v":68},{"t":"2020-11-14","v":74},{"t":"2020-11-17","v":78},{"t":"2020-11-20","v":52},{"t":"2020-11-23","v":62},{"t":"2020-11-26","v":48},{"t":"2020-11-29","v":60},
      {"t":"2020-12-02","v":65},{"t":"2020-12-05","v":50},{"t":"2020-12-08","v":68},{"t":"2020-12-11","v":62},{"t":"2020-12-14","v":45},{"t":"2020-12-17","v":68},{"t":"2020-12-20","v":66},{"t":"2020-12-23","v":50},{"t":"2020-12-26","v":70},{"t":"2020-12-29","v":72},
      {"t":"2021-01-01","v":74},{"t":"2021-01-04","v":78},{"t":"2021-01-07","v":82},{"t":"2021-01-10","v":84},{"t":"2021-01-13","v":80},{"t":"2021-01-16","v":78},{"t":"2021-01-19","v":84},{"t":"2021-01-22","v":45},{"t":"2021-01-25","v":62},{"t":"2021-01-28","v":70},{"t":"2021-01-31","v":52},
      {"t":"2021-02-03","v":72},{"t":"2021-02-06","v":75},{"t":"2021-02-09","v":70},{"t":"2021-02-12","v":76},{"t":"2021-02-15","v":74},{"t":"2021-02-18","v":35},{"t":"2021-02-21","v":45},{"t":"2021-02-24","v":68},{"t":"2021-02-27","v":60},
      {"t":"2021-03-02","v":62},{"t":"2021-03-05","v":55},{"t":"2021-03-08","v":40},{"t":"2021-03-11","v":62},{"t":"2021-03-14","v":58},{"t":"2021-03-17","v":40},{"t":"2021-03-20","v":58},{"t":"2021-03-23","v":55},{"t":"2021-03-26","v":48},{"t":"2021-03-29","v":44}
    ],
    "wk": [
      {"t":"2019-04-01","v":44.7},{"t":"2019-04-08","v":43.0},{"t":"2019-04-15","v":36.0},{"t":"2019-04-22","v":44.1},{"t":"2019-04-29","v":45.3},{"t":"2019-05-06","v":48.4},{"t":"2019-05-13","v":43.6},{"t":"2019-05-20","v":60.8},{"t":"2019-05-27","v":49.5},{"t":"2019-06-03","v":59.9},{"t":"2019-06-10","v":58.5},{"t":"2019-06-17","v":54.0},{"t":"2019-06-24","v":50.4},{"t":"2019-07-01","v":47.0},{"t":"2019-07-08","v":49.4},{"t":"2019-07-15","v":47.9},{"t":"2019-07-22","v":56.1},{"t":"2019-07-29","v":50.2},{"t":"2019-08-05","v":54.4},{"t":"2019-08-12","v":61.6},{"t":"2019-08-19","v":60.4},{"t":"2019-08-26","v":64.0},{"t":"2019-09-02","v":60.8},{"t":"2019-09-09","v":61.2},{"t":"2019-09-16","v":54.0},{"t":"2019-09-23","v":62.9},{"t":"2019-09-30","v":68.0},
      {"t":"2019-10-07","v":57.8},{"t":"2019-10-14","v":70.9},{"t":"2019-10-21","v":66.0},{"t":"2019-10-28","v":58.7},{"t":"2019-11-04","v":51.5},{"t":"2019-11-11","v":68.6},{"t":"2019-11-18","v":43.7},{"t":"2019-11-25","v":47.5},{"t":"2019-12-02","v":61.9},{"t":"2019-12-09","v":65.6},{"t":"2019-12-16","v":52.5},{"t":"2019-12-23","v":49.4},{"t":"2019-12-30","v":53.2},{"t":"2020-01-06","v":64.6},{"t":"2020-01-13","v":74.6},{"t":"2020-01-20","v":59.5},{"t":"2020-01-27","v":57.2},{"t":"2020-02-03","v":64.8},{"t":"2020-02-10","v":72.2},{"t":"2020-02-17","v":67.8},{"t":"2020-02-24","v":53.2},{"t":"2020-03-02","v":59.4},{"t":"2020-03-09","v":55.1},{"t":"2020-03-16","v":57.7},{"t":"2020-03-23","v":50.5},{"t":"2020-03-30","v":47.7},
      {"t":"2020-04-06","v":47.4},{"t":"2020-04-13","v":46.2},{"t":"2020-04-20","v":42.2},{"t":"2020-04-27","v":52.5},{"t":"2020-05-04","v":47.4},{"t":"2020-05-11","v":41.1},{"t":"2020-05-18","v":46.4},{"t":"2020-05-25","v":50.8},{"t":"2020-06-01","v":48.5},{"t":"2020-06-08","v":54.4},{"t":"2020-06-15","v":48.3},{"t":"2020-06-22","v":50.8},{"t":"2020-06-29","v":49.8},{"t":"2020-07-06","v":54.9},{"t":"2020-07-13","v":57.0},{"t":"2020-07-20","v":51.9},{"t":"2020-07-27","v":58.7},{"t":"2020-08-03","v":61.6},{"t":"2020-08-10","v":56.6},{"t":"2020-08-17","v":58.7},{"t":"2020-08-24","v":57.7},{"t":"2020-08-31","v":57.0},{"t":"2020-09-07","v":57.0},{"t":"2020-09-14","v":54.4},{"t":"2020-09-21","v":60.8},{"t":"2020-09-28","v":72.6},
      {"t":"2020-10-05","v":68.8},{"t":"2020-10-12","v":65.6},{"t":"2020-10-19","v":61.8},{"t":"2020-10-26","v":66.9},{"t":"2020-11-02","v":68.1},{"t":"2020-11-09","v":68.0},{"t":"2020-11-16","v":68.4},{"t":"2020-11-23","v":55.3},{"t":"2020-11-30","v":59.1},{"t":"2020-12-07","v":63.8},{"t":"2020-12-14","v":65.0},{"t":"2020-12-21","v":62.1},{"t":"2020-12-28","v":72.6},{"t":"2021-01-04","v":80.7},{"t":"2021-01-11","v":80.2},{"t":"2021-01-18","v":69.0},{"t":"2021-01-25","v":58.2},{"t":"2021-02-01","v":72.2},{"t":"2021-02-08","v":72.0},{"t":"2021-02-15","v":51.1},{"t":"2021-02-22","v":60.0},{"t":"2021-03-01","v":59.1},{"t":"2021-03-08","v":52.9},{"t":"2021-03-15","v":53.8},{"t":"2021-03-22","v":50.2},{"t":"2021-03-29","v":45.2}
    ],
    "mo": [
      {"t":"2019-03-31","v":39.3},{"t":"2019-04-30","v":42.1},{"t":"2019-05-31","v":49.0},{"t":"2019-06-30","v":55.0},{"t":"2019-07-31","v":49.8},{"t":"2019-08-31","v":59.5},{"t":"2019-09-30","v":60.3},{"t":"2019-10-31","v":64.4},{"t":"2019-11-30","v":52.8},{"t":"2019-12-31","v":58.4},{"t":"2020-01-31","v":62.5},{"t":"2020-02-29","v":63.6},{"t":"2020-03-31","v":55.8},{"t":"2020-04-30","v":46.2},{"t":"2020-05-31","v":46.9},{"t":"2020-06-30","v":50.3},{"t":"2020-07-31","v":54.4},{"t":"2020-08-31","v":58.2},{"t":"2020-09-30","v":59.7},{"t":"2020-10-31","v":66.2},{"t":"2020-11-30","v":64.0},{"t":"2020-12-31","v":64.7},{"t":"2021-01-31","v":66.0},{"t":"2021-02-28","v":60.5},{"t":"2021-03-31","v":50.5}
    ],
    "q3": [
      {"t":"2019-03-31","v":39.0},{"t":"2019-06-30","v":49.2},{"t":"2019-09-30","v":56.5},{"t":"2019-12-31","v":58.3},{"t":"2020-03-31","v":60.6},{"t":"2020-06-30","v":48.2},{"t":"2020-09-30","v":57.9},{"t":"2020-12-31","v":64.8},{"t":"2021-03-31","v":62.6}
    ]
  },
  "vconcat": [
    {
      "width": 818, "height": 194,
      "title": {"text": "a)", "orient": "top", "anchor": "start", "frame": "group", "offset": -111, "dx": 9, "baseline": "alphabetic", "font": "Lato", "fontSize": 30, "fontWeight": "bold", "color": "#000000"},
      "layer": [
        {
          "data": {"name": "drops", "format": {"parse": {"t": "date"}}},
          "mark": {"type": "rule", "strokeDash": [3, 2], "strokeWidth": 0.9},
          "encoding": {
            "x": {"field": "t", "type": "temporal", "title": "Date [yyyy-mm]", "scale": {"type": "utc", "domain": [{"year": 2019, "month": 4, "date": 1, "utc": true}, {"year": 2021, "month": 3, "date": 29, "hours": 22, "utc": true}]}, "axis": {"format": "%Y-%m", "values": [{"year": 2019, "month": 4, "date": 1, "utc": true}, {"year": 2019, "month": 7, "date": 1, "utc": true}, {"year": 2019, "month": 10, "date": 1, "utc": true}, {"year": 2020, "month": 1, "date": 1, "utc": true}, {"year": 2020, "month": 4, "date": 1, "utc": true}, {"year": 2020, "month": 7, "date": 1, "utc": true}, {"year": 2020, "month": 10, "date": 1, "utc": true}, {"year": 2021, "month": 1, "date": 1, "utc": true}]}},
            "color": {"datum": "drop position"}
          }
        },
        {
          "data": {"name": "hf", "format": {"parse": {"t": "date"}}},
          "mark": {"type": "line", "strokeWidth": 1.4, "clip": true},
          "encoding": {
            "x": {"field": "t", "type": "temporal", "title": "Date [yyyy-mm]"},
            "y": {"field": "v", "type": "quantitative", "scale": {"domain": [18.8, 97.1], "nice": false, "zero": false}, "axis": {"title": "Relative Humidity [%Urel.]", "values": [20, 30, 40, 50, 60, 70, 80, 90]}},
            "color": {"datum": "5 min", "scale": {"domain": ["5 min", "drop position"], "range": ["#0000cd", "#a6a6a6"]}, "legend": {"orient": "top-left", "title": null, "symbolType": "M-1.77,0H1.77", "symbolSize": 200, "symbolOffset": 8.4, "labelOffset": 11.9, "symbolStrokeWidth": 1.5, "encode": {"symbols": {"update": {"strokeDash": {"signal": "datum.value === 'drop position' ? [3, 2] : [1, 0]"}}}}}}
          }
        }
      ]
    },
    {
      "width": 818, "height": 194,
      "title": {"text": "b)", "orient": "top", "anchor": "start", "frame": "group", "offset": -108, "dx": 9, "baseline": "alphabetic", "font": "Lato", "fontSize": 30, "fontWeight": "bold", "color": "#000000"},
      "layer": [
        {"layer": [
          {
            "data": {"name": "drops", "format": {"parse": {"t": "date"}}},
            "mark": {"type": "rule", "strokeDash": [3, 2], "strokeWidth": 0.9},
            "encoding": {
              "x": {"field": "t", "type": "temporal", "title": "Date [yyyy-mm]", "scale": {"type": "utc", "domain": [{"year": 2019, "month": 4, "date": 1, "utc": true}, {"year": 2021, "month": 3, "date": 29, "hours": 22, "utc": true}]}, "axis": {"format": "%Y-%m", "values": [{"year": 2019, "month": 4, "date": 1, "utc": true}, {"year": 2019, "month": 7, "date": 1, "utc": true}, {"year": 2019, "month": 10, "date": 1, "utc": true}, {"year": 2020, "month": 1, "date": 1, "utc": true}, {"year": 2020, "month": 4, "date": 1, "utc": true}, {"year": 2020, "month": 7, "date": 1, "utc": true}, {"year": 2020, "month": 10, "date": 1, "utc": true}, {"year": 2021, "month": 1, "date": 1, "utc": true}]}},
              "color": {"datum": "drop position"}
            }
          },
          {
            "data": {"name": "hf", "format": {"parse": {"t": "date"}}},
            "mark": {"type": "line", "strokeWidth": 1.3, "clip": true},
            "encoding": {
              "x": {"field": "t", "type": "temporal", "title": "Date [yyyy-mm]"},
              "y": {"field": "v", "type": "quantitative", "scale": {"domain": [23.1, 95.9], "nice": false, "zero": false}, "axis": {"title": "Relative Humidity [%Urel.]", "values": [30, 40, 50, 60, 70, 80, 90]}},
              "color": {"datum": "1 hour (left)", "scale": {"domain": ["1 hour (left)", "drop position"], "range": ["#000000", "#a6a6a6"]}, "legend": {"orient": "top-left", "title": null, "symbolType": "M-1.77,0H1.77", "symbolSize": 200, "symbolOffset": 8.4, "labelOffset": 11.9, "symbolStrokeWidth": 1.5, "encode": {"symbols": {"update": {"strokeDash": {"signal": "datum.value === 'drop position' ? [3, 2] : [1, 0]"}}}}}}
            }
          }
        ]},
        {
          "data": {"name": "segs", "format": {"parse": {"t0": "date", "t1": "date"}}},
          "mark": {"type": "rule", "strokeWidth": 3},
          "encoding": {
            "x": {"field": "t0", "type": "temporal", "title": "Date [yyyy-mm]"},
            "x2": {"field": "t1"},
            "y": {"field": "s", "type": "quantitative", "scale": {"domain": [-0.35, 16], "nice": false, "zero": false}, "axis": {"orient": "right", "title": "Stress [MPa]", "titleAngle": 270, "titleBaseline": "top", "values": [0, 2, 4, 6, 8, 10, 12, 14], "grid": false, "labelPadding": 2, "titlePadding": 0.5}},
            "stroke": {"field": "m", "type": "nominal", "scale": {"domain": ["MoD", "EN15757"], "range": ["#0000cc", "#e80000"]}, "legend": {"orient": "top-right", "offset": 6, "title": null, "symbolType": "M-2,0H2", "symbolSize": 200, "symbolOffset": 7.1, "labelOffset": 13, "symbolStrokeWidth": 3.5, "labelExpr": "datum.label + ' (right)'"}}
          }
        }
      ],
      "resolve": {"scale": {"y": "independent"}}
    },
    {
      "width": 818, "height": 194,
      "title": {"text": "c)", "orient": "top", "anchor": "start", "frame": "group", "offset": -102, "dx": 9, "baseline": "alphabetic", "font": "Lato", "fontSize": 30, "fontWeight": "bold", "color": "#000000"},
      "layer": [
        {"layer": [
          {
            "data": {"name": "drops", "format": {"parse": {"t": "date"}}},
            "mark": {"type": "rule", "strokeDash": [3, 2], "strokeWidth": 0.9},
            "encoding": {
              "x": {"field": "t", "type": "temporal", "title": "Date [yyyy-mm]", "scale": {"type": "utc", "domain": [{"year": 2019, "month": 4, "date": 1, "utc": true}, {"year": 2021, "month": 3, "date": 29, "hours": 22, "utc": true}]}, "axis": {"format": "%Y-%m", "values": [{"year": 2019, "month": 4, "date": 1, "utc": true}, {"year": 2019, "month": 7, "date": 1, "utc": true}, {"year": 2019, "month": 10, "date": 1, "utc": true}, {"year": 2020, "month": 1, "date": 1, "utc": true}, {"year": 2020, "month": 4, "date": 1, "utc": true}, {"year": 2020, "month": 7, "date": 1, "utc": true}, {"year": 2020, "month": 10, "date": 1, "utc": true}, {"year": 2021, "month": 1, "date": 1, "utc": true}]}},
              "color": {"datum": "drop position"}
            }
          },
          {
            "data": {"name": "hf", "format": {"parse": {"t": "date"}}},
            "mark": {"type": "line", "strokeWidth": 1.3, "clip": true},
            "encoding": {
              "x": {"field": "t", "type": "temporal", "title": "Date [yyyy-mm]"},
              "y": {"field": "v", "type": "quantitative", "scale": {"domain": [24.5, 93.6], "nice": false, "zero": false}, "axis": {"title": "Relative Humidity [%Urel.]", "values": [30, 40, 50, 60, 70, 80, 90]}},
              "color": {"datum": "12 hours (left)", "scale": {"domain": ["12 hours (left)", "drop position"], "range": ["#ffa500", "#a6a6a6"]}, "legend": {"orient": "top-left", "title": null, "symbolType": "M-1.77,0H1.77", "symbolSize": 200, "symbolOffset": 8.4, "labelOffset": 11.9, "symbolStrokeWidth": 1.5, "encode": {"symbols": {"update": {"strokeDash": {"signal": "datum.value === 'drop position' ? [3, 2] : [1, 0]"}}}}}}
            }
          }
        ]},
        {
          "data": {"name": "segs", "format": {"parse": {"t0": "date", "t1": "date"}}},
          "mark": {"type": "rule", "strokeWidth": 3},
          "encoding": {
            "x": {"field": "t0", "type": "temporal", "title": "Date [yyyy-mm]"},
            "x2": {"field": "t1"},
            "y": {"field": "s", "type": "quantitative", "scale": {"domain": [-0.35, 16], "nice": false, "zero": false}, "axis": {"orient": "right", "title": "Stress [MPa]", "titleAngle": 270, "titleBaseline": "top", "values": [0, 2, 4, 6, 8, 10, 12, 14], "grid": false, "labelPadding": 2, "titlePadding": 0.5}},
            "stroke": {"field": "m", "type": "nominal", "scale": {"domain": ["MoD", "EN15757"], "range": ["#0000cc", "#e80000"]}, "legend": {"orient": "top-right", "offset": 6, "title": null, "symbolType": "M-2,0H2", "symbolSize": 200, "symbolOffset": 7.1, "labelOffset": 13, "symbolStrokeWidth": 3.5, "labelExpr": "datum.label + ' (right)'"}}
          }
        }
      ],
      "resolve": {"scale": {"y": "independent"}}
    },
    {
      "width": 818, "height": 194,
      "title": {"text": "d)", "orient": "top", "anchor": "start", "frame": "group", "offset": -98, "dx": 9, "baseline": "alphabetic", "font": "Lato", "fontSize": 30, "fontWeight": "bold", "color": "#000000"},
      "layer": [
        {"layer": [
          {
            "data": {"name": "drops", "format": {"parse": {"t": "date"}}},
            "mark": {"type": "rule", "strokeDash": [3, 2], "strokeWidth": 0.9},
            "encoding": {
              "x": {"field": "t", "type": "temporal", "title": "Date [yyyy-mm]", "scale": {"type": "utc", "domain": [{"year": 2019, "month": 4, "date": 1, "utc": true}, {"year": 2021, "month": 3, "date": 29, "hours": 22, "utc": true}]}, "axis": {"format": "%Y-%m", "values": [{"year": 2019, "month": 4, "date": 1, "utc": true}, {"year": 2019, "month": 7, "date": 1, "utc": true}, {"year": 2019, "month": 10, "date": 1, "utc": true}, {"year": 2020, "month": 1, "date": 1, "utc": true}, {"year": 2020, "month": 4, "date": 1, "utc": true}, {"year": 2020, "month": 7, "date": 1, "utc": true}, {"year": 2020, "month": 10, "date": 1, "utc": true}, {"year": 2021, "month": 1, "date": 1, "utc": true}]}},
              "color": {"datum": "drop position"}
            }
          },
          {
            "data": {"name": "day", "format": {"parse": {"t": "date"}}},
            "mark": {"type": "line", "strokeWidth": 1.6, "clip": true},
            "encoding": {
              "x": {"field": "t", "type": "temporal", "title": "Date [yyyy-mm]"},
              "y": {"field": "v", "type": "quantitative", "scale": {"domain": [25.5, 89.6], "nice": false, "zero": false}, "axis": {"title": "Relative Humidity [%Urel.]", "values": [30, 40, 50, 60, 70, 80]}},
              "color": {"datum": "1 day (left)", "scale": {"domain": ["1 day (left)", "drop position"], "range": ["#006400", "#a6a6a6"]}, "legend": {"orient": "top-left", "title": null, "symbolType": "M-1.77,0H1.77", "symbolSize": 200, "symbolOffset": 8.4, "labelOffset": 11.9, "symbolStrokeWidth": 1.5, "encode": {"symbols": {"update": {"strokeDash": {"signal": "datum.value === 'drop position' ? [3, 2] : [1, 0]"}}}}}}
            }
          }
        ]},
        {
          "data": {"name": "segs", "format": {"parse": {"t0": "date", "t1": "date"}}},
          "mark": {"type": "rule", "strokeWidth": 3},
          "encoding": {
            "x": {"field": "t0", "type": "temporal", "title": "Date [yyyy-mm]"},
            "x2": {"field": "t1"},
            "y": {"field": "s", "type": "quantitative", "scale": {"domain": [-0.35, 16], "nice": false, "zero": false}, "axis": {"orient": "right", "title": "Stress [MPa]", "titleAngle": 270, "titleBaseline": "top", "values": [0, 2, 4, 6, 8, 10, 12, 14], "grid": false, "labelPadding": 2, "titlePadding": 0.5}},
            "stroke": {"field": "m", "type": "nominal", "scale": {"domain": ["MoD", "EN15757"], "range": ["#0000cc", "#e80000"]}, "legend": {"orient": "top-right", "offset": 6, "title": null, "symbolType": "M-2,0H2", "symbolSize": 200, "symbolOffset": 7.1, "labelOffset": 13, "symbolStrokeWidth": 3.5, "labelExpr": "datum.label + ' (right)'"}}
          }
        }
      ],
      "resolve": {"scale": {"y": "independent"}}
    },
    {
      "width": 818, "height": 194,
      "title": {"text": "e)", "orient": "top", "anchor": "start", "frame": "group", "offset": -67, "dx": 6, "baseline": "alphabetic", "font": "Lato", "fontSize": 30, "fontWeight": "bold", "color": "#000000"},
      "layer": [
        {"layer": [
          {
            "data": {"name": "drops", "format": {"parse": {"t": "date"}}},
            "mark": {"type": "rule", "strokeDash": [3, 2], "strokeWidth": 0.9},
            "encoding": {
              "x": {"field": "t", "type": "temporal", "title": "Date [yyyy-mm]", "scale": {"type": "utc", "domain": [{"year": 2019, "month": 4, "date": 1, "utc": true}, {"year": 2021, "month": 3, "date": 29, "hours": 22, "utc": true}]}, "axis": {"format": "%Y-%m", "values": [{"year": 2019, "month": 4, "date": 1, "utc": true}, {"year": 2019, "month": 7, "date": 1, "utc": true}, {"year": 2019, "month": 10, "date": 1, "utc": true}, {"year": 2020, "month": 1, "date": 1, "utc": true}, {"year": 2020, "month": 4, "date": 1, "utc": true}, {"year": 2020, "month": 7, "date": 1, "utc": true}, {"year": 2020, "month": 10, "date": 1, "utc": true}, {"year": 2021, "month": 1, "date": 1, "utc": true}]}},
              "color": {"datum": "drop position"}
            }
          },
          {
            "data": {"name": "wk", "format": {"parse": {"t": "date"}}},
            "mark": {"type": "line", "strokeWidth": 1.6, "clip": true},
            "encoding": {
              "x": {"field": "t", "type": "temporal", "title": "Date [yyyy-mm]"},
              "y": {"field": "v", "type": "quantitative", "scale": {"domain": [33.5, 83.0], "nice": false, "zero": false}, "axis": {"title": "Relative Humidity [%Urel.]", "values": [40, 50, 60, 70, 80]}},
              "color": {"datum": "7 days (left)", "scale": {"domain": ["7 days (left)", "drop position"], "range": ["#cc10cc", "#a6a6a6"]}, "legend": {"orient": "bottom-right", "offset": 6, "title": null, "symbolType": "M-1.77,0H1.77", "symbolSize": 200, "symbolOffset": 8.4, "labelOffset": 11.9, "symbolStrokeWidth": 1.5, "encode": {"symbols": {"update": {"strokeDash": {"signal": "datum.value === 'drop position' ? [3, 2] : [1, 0]"}}}}}}
            }
          }
        ]},
        {
          "data": {"name": "segs", "format": {"parse": {"t0": "date", "t1": "date"}}},
          "mark": {"type": "rule", "strokeWidth": 3},
          "encoding": {
            "x": {"field": "t0", "type": "temporal", "title": "Date [yyyy-mm]"},
            "x2": {"field": "t1"},
            "y": {"field": "s", "type": "quantitative", "scale": {"domain": [-0.35, 16], "nice": false, "zero": false}, "axis": {"orient": "right", "title": "Stress [MPa]", "titleAngle": 270, "titleBaseline": "top", "values": [0, 2, 4, 6, 8, 10, 12, 14], "grid": false, "labelPadding": 2, "titlePadding": 0.5}},
            "stroke": {"field": "m", "type": "nominal", "scale": {"domain": ["MoD", "EN15757"], "range": ["#0000cc", "#e80000"]}, "legend": {"orient": "top-right", "offset": 6, "title": null, "symbolType": "M-2,0H2", "symbolSize": 200, "symbolOffset": 7.1, "labelOffset": 13, "symbolStrokeWidth": 3.5, "labelExpr": "datum.label + ' (right)'"}}
          }
        }
      ],
      "resolve": {"scale": {"y": "independent"}}
    },
    {
      "width": 818, "height": 194,
      "title": {"text": "f)", "orient": "top", "anchor": "start", "frame": "group", "offset": -65, "dx": 9, "baseline": "alphabetic", "font": "Lato", "fontSize": 30, "fontWeight": "bold", "color": "#000000"},
      "layer": [
        {"layer": [
          {
            "data": {"name": "drops", "format": {"parse": {"t": "date"}}},
            "mark": {"type": "rule", "strokeDash": [3, 2], "strokeWidth": 0.9},
            "encoding": {
              "x": {"field": "t", "type": "temporal", "title": "Date [yyyy-mm]", "scale": {"type": "utc", "domain": [{"year": 2019, "month": 4, "date": 1, "utc": true}, {"year": 2021, "month": 3, "date": 29, "hours": 22, "utc": true}]}, "axis": {"format": "%Y-%m", "values": [{"year": 2019, "month": 4, "date": 1, "utc": true}, {"year": 2019, "month": 7, "date": 1, "utc": true}, {"year": 2019, "month": 10, "date": 1, "utc": true}, {"year": 2020, "month": 1, "date": 1, "utc": true}, {"year": 2020, "month": 4, "date": 1, "utc": true}, {"year": 2020, "month": 7, "date": 1, "utc": true}, {"year": 2020, "month": 10, "date": 1, "utc": true}, {"year": 2021, "month": 1, "date": 1, "utc": true}]}},
              "color": {"datum": "drop position"}
            }
          },
          {
            "data": {"name": "mo", "format": {"parse": {"t": "date"}}},
            "mark": {"type": "line", "strokeWidth": 1.6, "clip": true},
            "encoding": {
              "x": {"field": "t", "type": "temporal", "title": "Date [yyyy-mm]"},
              "y": {"field": "v", "type": "quantitative", "scale": {"domain": [37.0, 72.0], "nice": false, "zero": false}, "axis": {"title": "Relative Humidity [%Urel.]", "values": [40, 45, 50, 55, 60, 65, 70]}},
              "color": {"datum": "1 month (left)", "scale": {"domain": ["1 month (left)", "drop position"], "range": ["#daa520", "#a6a6a6"]}, "legend": {"orient": "bottom-right", "offset": 6, "title": null, "symbolType": "M-1.77,0H1.77", "symbolSize": 200, "symbolOffset": 8.4, "labelOffset": 11.9, "symbolStrokeWidth": 1.5, "encode": {"symbols": {"update": {"strokeDash": {"signal": "datum.value === 'drop position' ? [3, 2] : [1, 0]"}}}}}}
            }
          }
        ]},
        {
          "data": {"name": "segs", "format": {"parse": {"t0": "date", "t1": "date"}}},
          "mark": {"type": "rule", "strokeWidth": 3},
          "encoding": {
            "x": {"field": "t0", "type": "temporal", "title": "Date [yyyy-mm]"},
            "x2": {"field": "t1"},
            "y": {"field": "s", "type": "quantitative", "scale": {"domain": [-0.35, 16], "nice": false, "zero": false}, "axis": {"orient": "right", "title": "Stress [MPa]", "titleAngle": 270, "titleBaseline": "top", "values": [0, 2, 4, 6, 8, 10, 12, 14], "grid": false, "labelPadding": 2, "titlePadding": 0.5}},
            "stroke": {"field": "m", "type": "nominal", "scale": {"domain": ["MoD", "EN15757"], "range": ["#0000cc", "#e80000"]}, "legend": {"orient": "top-right", "offset": 6, "title": null, "symbolType": "M-2,0H2", "symbolSize": 200, "symbolOffset": 7.1, "labelOffset": 13, "symbolStrokeWidth": 3.5, "labelExpr": "datum.label + ' (right)'"}}
          }
        }
      ],
      "resolve": {"scale": {"y": "independent"}}
    },
    {
      "width": 818, "height": 194,
      "title": {"text": "g)", "orient": "top", "anchor": "start", "frame": "group", "offset": -67, "dx": 9, "baseline": "alphabetic", "font": "Lato", "fontSize": 30, "fontWeight": "bold", "color": "#000000"},
      "layer": [
        {"layer": [
          {
            "data": {"name": "drops", "format": {"parse": {"t": "date"}}},
            "mark": {"type": "rule", "strokeDash": [3, 2], "strokeWidth": 0.9},
            "encoding": {
              "x": {"field": "t", "type": "temporal", "title": "Date [yyyy-mm]", "scale": {"type": "utc", "domain": [{"year": 2019, "month": 4, "date": 1, "utc": true}, {"year": 2021, "month": 3, "date": 29, "hours": 22, "utc": true}]}, "axis": {"format": "%Y-%m", "values": [{"year": 2019, "month": 4, "date": 1, "utc": true}, {"year": 2019, "month": 7, "date": 1, "utc": true}, {"year": 2019, "month": 10, "date": 1, "utc": true}, {"year": 2020, "month": 1, "date": 1, "utc": true}, {"year": 2020, "month": 4, "date": 1, "utc": true}, {"year": 2020, "month": 7, "date": 1, "utc": true}, {"year": 2020, "month": 10, "date": 1, "utc": true}, {"year": 2021, "month": 1, "date": 1, "utc": true}]}},
              "color": {"datum": "drop position"}
            }
          },
          {
            "data": {"name": "q3", "format": {"parse": {"t": "date"}}},
            "mark": {"type": "line", "strokeWidth": 1.8, "clip": true},
            "encoding": {
              "x": {"field": "t", "type": "temporal", "title": "Date [yyyy-mm]"},
              "y": {"field": "v", "type": "quantitative", "scale": {"domain": [37.8, 66.2], "nice": false, "zero": false}, "axis": {"title": "Relative Humidity [%Urel.]", "values": [40, 45, 50, 55, 60, 65]}},
              "color": {"datum": "3 months (left)", "scale": {"domain": ["3 months (left)", "drop position"], "range": ["#008080", "#a6a6a6"]}, "legend": {"orient": "bottom-right", "offset": 6, "title": null, "symbolType": "M-1.77,0H1.77", "symbolSize": 200, "symbolOffset": 8.4, "labelOffset": 11.9, "symbolStrokeWidth": 1.5, "encode": {"symbols": {"update": {"strokeDash": {"signal": "datum.value === 'drop position' ? [3, 2] : [1, 0]"}}}}}}
            }
          }
        ]},
        {
          "data": {"name": "segs", "format": {"parse": {"t0": "date", "t1": "date"}}},
          "mark": {"type": "rule", "strokeWidth": 3},
          "encoding": {
            "x": {"field": "t0", "type": "temporal", "title": "Date [yyyy-mm]"},
            "x2": {"field": "t1"},
            "y": {"field": "s", "type": "quantitative", "scale": {"domain": [-0.35, 16], "nice": false, "zero": false}, "axis": {"orient": "right", "title": "Stress [MPa]", "titleAngle": 270, "titleBaseline": "top", "values": [0, 2, 4, 6, 8, 10, 12, 14], "grid": false, "labelPadding": 2, "titlePadding": 0.5}},
            "stroke": {"field": "m", "type": "nominal", "scale": {"domain": ["MoD", "EN15757"], "range": ["#0000cc", "#e80000"]}, "legend": {"orient": "top-right", "offset": 6, "title": null, "symbolType": "M-2,0H2", "symbolSize": 200, "symbolOffset": 7.1, "labelOffset": 13, "symbolStrokeWidth": 3.5, "labelExpr": "datum.label + ' (right)'"}}
          }
        }
      ],
      "resolve": {"scale": {"y": "independent"}}
    }
  ]
}
